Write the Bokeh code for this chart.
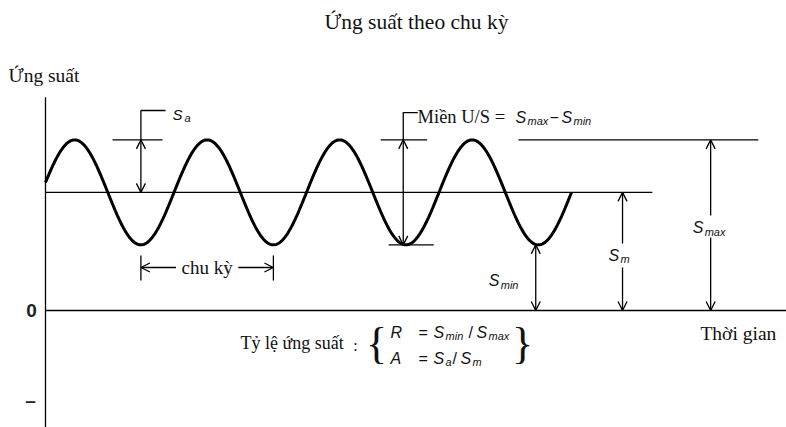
import numpy as np
from bokeh.plotting import figure
from bokeh.models import Range1d, Arrow, OpenHead
from bokeh.core.properties import value
from bokeh.embed import file_html
from bokeh.resources import INLINE

# ---- cycle parameters (stress in arbitrary units, time in periods) ----
period = 1.0
t_first_peak = 0.22
t_wave_end = 3.97
s_mean = 2.25
s_amp = 1.0
s_max = s_mean + s_amp
s_min = s_mean - s_amp

# ---- texts ----
title_text = "Ứng suất theo chu kỳ"
y_label = "Ứng suất"
x_label = "Thời gian"
cycle_label = "chu kỳ"
range_label = "Miền U/S ="
ratio_label = "Tỷ lệ ứng suất"
zero_tick = "0"
neg_tick = "–"

SERIF = value("Liberation Serif")
SANS = value("Liberation Sans")
LW = 1.3
INK = "#111111"

p = figure(width=786, height=427, output_backend="svg", toolbar_location=None,
           x_range=Range1d(-0.3396, 5.5925), y_range=Range1d(-2.2286, 5.9048),
           x_axis_type=None, y_axis_type=None, min_border=0)
p.outline_line_color = None
p.grid.visible = False
p.background_fill_color = "white"

# sinusoidal stress history
t = np.linspace(0.0, t_wave_end, 600)
s = s_mean + s_amp * np.cos(2 * np.pi * (t - t_first_peak) / period)
p.line(t, s, line_width=3, line_color="black")

troughs = [t_first_peak + 0.5 * period + k * period for k in range(4)]

# axes: stress axis and zero line
p.segment(x0=[0, 0], y0=[-2.3, 0], x1=[0, 5.7], y1=[4.06, 0], line_width=LW, line_color="black")
# mean-stress line
p.segment(x0=[0], y0=[s_mean], x1=[4.58], y1=[s_mean], line_width=LW, line_color="black")
# max-stress reference line
p.segment(x0=[3.57], y0=[s_max], x1=[5.38], y1=[s_max], line_width=LW, line_color="black")


def arrow(x0, y0, x1, y1, both=False):
    p.add_layout(Arrow(x_start=x0, y_start=y0, x_end=x1, y_end=y1,
                       line_width=LW, line_color="black",
                       start=OpenHead(size=9, line_width=LW) if both else None,
                       end=OpenHead(size=9, line_width=LW)))


def sym(x, y, parts, size=16, sub_size=11):
    """Italic symbol with subscripts; parts = (text, dx_px, is_sub)."""
    for txt, dx, sub in parts:
        italic = txt not in ("=", "/", "−")
        p.text(x=[x], y=[y], text=[txt], x_offset=dx, y_offset=4 if sub else 0,
               text_font=SANS, text_font_size=f"{sub_size if sub else size}px",
               text_font_style="italic" if italic else "normal",
               text_baseline="middle", text_align="left", text_color=INK)


# ---- amplitude S_a ----
t_sa = troughs[0]
p.segment(x0=[0.506], y0=[s_max], x1=[0.883], y1=[s_max], line_width=LW, line_color="black")
arrow(t_sa, s_mean, t_sa, s_max, both=True)
p.line([t_sa, t_sa, 0.906], [s_max, 3.81, 3.81], line_width=LW, line_color="black")
sym(0.906, 3.74, [("S", 7, False), ("a", 19, True)], size=15)

# ---- stress range ----
t_rg = 2.70
p.segment(x0=[2.53, 2.59], y0=[s_max, s_min], x1=[2.88, 2.93], y1=[s_max, s_min],
          line_width=LW, line_color="black")
arrow(t_rg, s_min, t_rg, s_max, both=True)
p.line([t_rg, t_rg, 2.81], [s_max, 3.77, 3.77], line_width=LW, line_color="black")
p.text(x=[2.808], y=[3.68], text=[range_label], text_font=SERIF, text_font_size="18.5px",
       text_baseline="middle", text_color=INK)
sym(3.547, 3.68, [("S", 0, False), ("max", 12, True), ("−", 34, False),
                  ("S", 46, False), ("min", 58, True)])

# ---- cycle length ----
s_cy = 0.819
p.segment(x0=troughs[:2], y0=[1.048, 1.048], x1=troughs[:2], y1=[0.571, 0.571],
          line_width=LW, line_color="black")
arrow(0.985, s_cy, troughs[0], s_cy)
arrow(1.455, s_cy, troughs[1], s_cy)
p.text(x=[t_first_peak + period], y=[s_cy], text=[cycle_label], text_font=SERIF,
       text_font_size="19px", text_align="center", text_baseline="middle", text_color=INK)

# ---- S_min, S_m, S_max ----
t_smin, t_sm, t_smax = 3.70, 4.355, 5.02
arrow(t_smin, 0, t_smin, s_min, both=True)
sym(t_smin, 0.571, [("S", -47, False), ("min", -35, True)])

arrow(t_sm, 1.276, t_sm, s_mean)
arrow(t_sm, 0.819, t_sm, 0)
sym(t_sm, 1.048, [("S", -14, False), ("m", -2, True)])

arrow(t_smax, 1.81, t_smax, s_max)
arrow(t_smax, 1.39, t_smax, 0)
sym(t_smax, 1.58, [("S", -18, False), ("max", -6, True)])

# ---- titles, axis texts ----
p.text(x=[2.80], y=[5.486], text=[title_text], text_font=SERIF, text_font_size="21.5px",
       text_align="center", text_baseline="middle", text_color=INK)
p.text(x=[-0.279], y=[4.476], text=[y_label], text_font=SERIF, text_font_size="19.5px",
       text_baseline="middle", text_color=INK)
p.text(x=[4.943], y=[-0.438], text=[x_label], text_font=SERIF, text_font_size="19.5px",
       text_baseline="middle", text_color=INK)
p.text(x=[-0.106, -0.113], y=[0, -1.714], text=[zero_tick, neg_tick], text_font=SANS,
       text_font_size="19px", text_font_style="bold", text_align="center",
       text_baseline="middle", text_color="#222222")

# ---- stress ratios ----
p.text(x=[1.472], y=[-0.61], text=[ratio_label], text_font=SERIF, text_font_size="18px",
       text_baseline="middle", text_color=INK)
p.text(x=[2.34], y=[-0.667], text=[":"], text_font=SERIF, text_font_size="16px",
       text_align="center", text_baseline="middle", text_color=INK)
p.text(x=[2.498, 3.60], y=[-0.63, -0.63], text=["{", "}"], text_font=SERIF,
       text_font_size="44px", text_align="center", text_baseline="middle", text_color=INK)
sym(2.604, -0.419, [("R", 0, False), ("=", 28, False), ("S", 43, False), ("min", 55, True),
                    ("/", 78, False), ("S", 86, False), ("max", 98, True)])
sym(2.604, -0.914, [("A", 0, False), ("=", 28, False), ("S", 43, False), ("a", 55, True),
                    ("/", 62, False), ("S", 70, False), ("m", 82, True)])

open("out.html", "w").write(file_html(p, INLINE))
